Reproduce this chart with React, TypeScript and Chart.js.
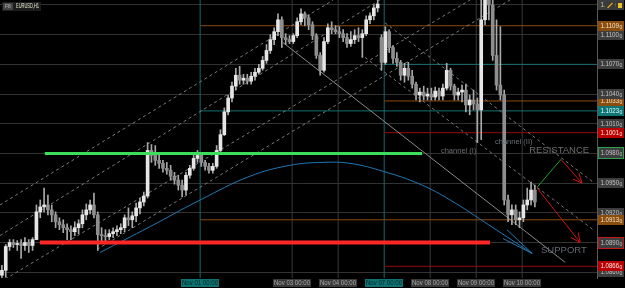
import { useEffect, useRef } from "react";
import { Chart, registerables } from "chart.js";

Chart.register(...registerables);

const symbolTitle = "EURUSD,H1";

// ---- candles (2-hour bars, index 0..139) ----
const opens = [
  1.0857, 1.0862, 1.0886, 1.0890, 1.0888, 1.0889, 1.0887, 1.0890, 1.0887, 1.0893,
  1.0921, 1.0926, 1.0928, 1.0923, 1.0918, 1.0911, 1.0908, 1.0905, 1.0903, 1.0901,
  1.0905, 1.0909, 1.0918, 1.0923, 1.0928, 1.0918, 1.0898, 1.0897, 1.0896, 1.0899,
  1.0901, 1.0903, 1.0905, 1.0915, 1.0913, 1.0917, 1.0925, 1.0931, 1.0937, 1.0983,
  1.0978, 1.0973, 1.0970, 1.0965, 1.0963, 1.0957, 1.0953, 1.0948, 1.0943, 1.0958,
  1.0965, 1.0975, 1.0978, 1.0971, 1.0967, 1.0963, 1.0967, 1.0983, 1.0999, 1.1022,
  1.1036, 1.1048, 1.1059, 1.1054, 1.1056, 1.1053, 1.1058, 1.1062, 1.1066, 1.1074,
  1.1084, 1.1095, 1.1103, 1.1115, 1.1097, 1.1095, 1.1093, 1.1099, 1.1113, 1.1121,
  1.1117, 1.1110, 1.1099, 1.1079, 1.1064, 1.1093, 1.1107, 1.1105, 1.1103, 1.1101,
  1.1097, 1.1091, 1.1095, 1.1099, 1.1097, 1.1101, 1.1115, 1.1119, 1.1127, 1.1097,
  1.1072, 1.1103, 1.1087, 1.1076, 1.1072, 1.1059, 1.1066, 1.1058, 1.1050, 1.1039,
  1.1042, 1.1038, 1.1040, 1.1037, 1.1043, 1.1038, 1.1046, 1.1064, 1.1048, 1.1039,
  1.1042, 1.1044, 1.1029, 1.1034, 1.1030, 1.1024, 1.1115, 1.1145, 1.1130, 1.1079,
  1.1049, 1.1039, 1.0933, 1.0918, 1.0923, 1.0913, 1.0915, 1.0928, 1.0933, 1.0943,
];
const highs = [
  1.0867, 1.0888, 1.0893, 1.0893, 1.0892, 1.0893, 1.0895, 1.0893, 1.0895, 1.0928,
  1.0933, 1.0945, 1.0938, 1.0928, 1.0921, 1.0915, 1.0913, 1.0909, 1.0907, 1.0911,
  1.0913, 1.0923, 1.0929, 1.0933, 1.0940, 1.0921, 1.0905, 1.0903, 1.0903, 1.0905,
  1.0907, 1.0909, 1.0918, 1.0925, 1.0921, 1.0930, 1.0935, 1.0941, 1.0991, 1.0989,
  1.0988, 1.0981, 1.0973, 1.0971, 1.0968, 1.0961, 1.0958, 1.0953, 1.0961, 1.0968,
  1.0978, 1.0983, 1.0981, 1.0973, 1.0970, 1.0970, 1.0988, 1.1004, 1.1026, 1.1039,
  1.1052, 1.1066, 1.1068, 1.1060, 1.1060, 1.1062, 1.1066, 1.1070, 1.1078, 1.1090,
  1.1100, 1.1107, 1.1121, 1.1118, 1.1101, 1.1099, 1.1101, 1.1117, 1.1126, 1.1123,
  1.1120, 1.1113, 1.1101, 1.1082, 1.1097, 1.1111, 1.1113, 1.1109, 1.1108, 1.1105,
  1.1101, 1.1103, 1.1105, 1.1107, 1.1105, 1.1119, 1.1122, 1.1130, 1.1138, 1.1100,
  1.1108, 1.1105, 1.1089, 1.1082, 1.1074, 1.1071, 1.1072, 1.1064, 1.1052, 1.1046,
  1.1048, 1.1046, 1.1046, 1.1047, 1.1046, 1.1050, 1.1071, 1.1066, 1.1050, 1.1046,
  1.1049, 1.1050, 1.1039, 1.1044, 1.1036, 1.1165, 1.1165, 1.1165, 1.1145, 1.1115,
  1.1108, 1.1044, 1.0938, 1.0928, 1.0928, 1.0921, 1.0933, 1.0945, 1.0951, 1.0948,
];
const lows = [
  1.0854, 1.0855, 1.0882, 1.0885, 1.0882, 1.0874, 1.0882, 1.0880, 1.0882, 1.0893,
  1.0915, 1.0921, 1.0918, 1.0911, 1.0905, 1.0903, 1.0900, 1.0893, 1.0893, 1.0897,
  1.0899, 1.0905, 1.0913, 1.0919, 1.0915, 1.0882, 1.0891, 1.0889, 1.0893, 1.0895,
  1.0897, 1.0899, 1.0901, 1.0907, 1.0905, 1.0911, 1.0919, 1.0927, 1.0935, 1.0971,
  1.0968, 1.0965, 1.0961, 1.0959, 1.0953, 1.0949, 1.0943, 1.0936, 1.0938, 1.0955,
  1.0963, 1.0971, 1.0967, 1.0963, 1.0960, 1.0960, 1.0965, 1.0981, 1.0998, 1.1019,
  1.1032, 1.1044, 1.1050, 1.1050, 1.1050, 1.1050, 1.1054, 1.1060, 1.1064, 1.1071,
  1.1081, 1.1090, 1.1099, 1.1087, 1.1090, 1.1091, 1.1091, 1.1097, 1.1110, 1.1109,
  1.1105, 1.1095, 1.1076, 1.1059, 1.1062, 1.1091, 1.1101, 1.1101, 1.1097, 1.1093,
  1.1087, 1.1088, 1.1091, 1.1093, 1.1077, 1.1099, 1.1111, 1.1115, 1.1123, 1.1064,
  1.1070, 1.1082, 1.1071, 1.1068, 1.1054, 1.1052, 1.1054, 1.1046, 1.1034, 1.1032,
  1.1034, 1.1034, 1.1034, 1.1034, 1.1034, 1.1034, 1.1044, 1.1044, 1.1034, 1.1034,
  1.1032, 1.1022, 1.1019, 1.1024, 1.0991, 1.0994, 1.1110, 1.1115, 1.1074, 1.1044,
  1.1034, 1.0928, 1.0911, 1.0908, 1.0908, 1.0905, 1.0911, 1.0923, 1.0928, 1.0926,
];
const closes = [
  1.0862, 1.0886, 1.0890, 1.0888, 1.0889, 1.0887, 1.0890, 1.0887, 1.0893, 1.0921,
  1.0926, 1.0928, 1.0923, 1.0918, 1.0911, 1.0908, 1.0905, 1.0903, 1.0901, 1.0905,
  1.0909, 1.0918, 1.0923, 1.0928, 1.0918, 1.0898, 1.0897, 1.0896, 1.0899, 1.0901,
  1.0903, 1.0905, 1.0915, 1.0913, 1.0917, 1.0925, 1.0931, 1.0937, 1.0983, 1.0978,
  1.0973, 1.0970, 1.0965, 1.0963, 1.0957, 1.0953, 1.0948, 1.0943, 1.0958, 1.0965,
  1.0975, 1.0978, 1.0971, 1.0967, 1.0963, 1.0967, 1.0983, 1.0999, 1.1022, 1.1036,
  1.1048, 1.1059, 1.1054, 1.1056, 1.1053, 1.1058, 1.1062, 1.1066, 1.1074, 1.1084,
  1.1095, 1.1103, 1.1115, 1.1097, 1.1095, 1.1093, 1.1099, 1.1113, 1.1121, 1.1117,
  1.1110, 1.1099, 1.1079, 1.1064, 1.1093, 1.1107, 1.1105, 1.1103, 1.1101, 1.1097,
  1.1091, 1.1095, 1.1099, 1.1097, 1.1101, 1.1115, 1.1119, 1.1127, 1.1131, 1.1072,
  1.1103, 1.1087, 1.1076, 1.1072, 1.1059, 1.1066, 1.1058, 1.1050, 1.1039, 1.1042,
  1.1038, 1.1040, 1.1037, 1.1043, 1.1038, 1.1046, 1.1064, 1.1048, 1.1039, 1.1042,
  1.1044, 1.1029, 1.1034, 1.1030, 1.1024, 1.1115, 1.1145, 1.1130, 1.1079, 1.1049,
  1.1039, 1.0933, 1.0918, 1.0923, 1.0913, 1.0915, 1.0928, 1.0933, 1.0943, 1.0931,
];

// ---- time axis (bar-index units) ----
const dayTickBars = [51.7, 75.7, 87.7, 99.7, 111.7, 123.7, 135.7];
const dayTickLabels = ["Nov 01 00:00", "Nov 03 00:00", "Nov 04 00:00", "Nov 07 00:00", "Nov 08 00:00", "Nov 09 00:00", "Nov 10 00:00"];
const highlightedDays = ["Nov 01 00:00", "Nov 07 00:00"];

// ---- price axis ----
const priceTicks = [1.113, 1.11, 1.107, 1.104, 1.101, 1.098, 1.095, 1.092, 1.089, 1.086];
const priceMin = 1.08542;
const priceMax = 1.1135;
const barMin = -0.5;
const barMax = 155.2;

// ---- horizontal levels ----
const levelPrices = [1.1109, 1.107, 1.1033, 1.1023, 1.1001, 1.0913, 1.0866];
const levelStartBars = [51.7, 99.7, 99.7, 51.7, 99.7, 51.7, 99.7];
const levelKinds = ["orange", "teal", "orange", "teal", "red", "orange", "red"];

const resistancePrice = 1.098;
const resistanceBars = [11.2, 109.6];
const supportPrice = 1.089;
const supportBars = [9.9, 127.3];

// ---- channels & trend lines ----
const risingChannelBars = [[-0.5, 86.4], [-0.5, 98.6], [-0.5, 122.1], [24.8, 132.5]];
const risingChannelPrices = [[1.0928, 1.1135], [1.0897, 1.1135], [1.085, 1.1135], [1.0883, 1.1135]];
const fallingChannelBars = [[99.9, 154.2], [94.7, 154.2]];
const fallingChannelPrices = [[1.1112, 1.0951], [1.1077, 1.0903]];
const trendLineBars = [73.3, 146.9];
const trendLinePrices = [1.1092, 1.087];

// ---- arc ----
const arcBars = [25.6, 38.6, 51.7, 64.7, 75.1, 83.7, 90.8, 99.4, 109.0, 116.9, 127.3, 138.3];
const arcPrices = [1.088, 1.0906, 1.0933, 1.0957, 1.0968, 1.0971, 1.097, 1.0962, 1.0949, 1.0933, 1.0907, 1.0879];
const arcHeadBars = [131.7, 138.3, 130.7];
const arcHeadPrices = [1.0903, 1.0879, 1.0894];

// ---- projection arrows ----
const upMoveBars = [139.6, 145.8];
const upMovePrices = [1.0946, 1.0974];
const downArrow1Bars = [145.8, 151.3];
const downArrow1Prices = [1.0974, 1.095];
const downHead1Bars = [150.5, 151.3, 148.95];
const downHead1Prices = [1.096, 1.095, 1.0954];
const downArrow2Bars = [139.6, 150.8];
const downArrow2Prices = [1.0945, 1.089];
const downHead2Bars = [150.3, 150.8, 148.4];
const downHead2Prices = [1.09, 1.089, 1.0895];

// ---- text annotations ----
const annotationTexts = ["channel (I)", "channel (II)", "RESISTANCE", "SUPPORT"];
const annotationBars = [114.5, 128.6, 137.5, 140.6];
const annotationPrices = [1.0983, 1.0992, 1.0983, 1.0882];

// ---- styles ----
const FONT = '"Liberation Sans", Arial, sans-serif';
const levelColors: Record<string, string> = { orange: "#8a4a12", teal: "#16706f", red: "#950b0b" };
const levelBoxBg: Record<string, string> = { orange: "#8a4d10", teal: "#0f7575", red: "#b80000" };
const levelBoxFg: Record<string, string> = { orange: "#f3e2c4", teal: "#e8ffff", red: "#ffe6e6" };
const annotationStyles = [
  { font: `7.5px ${FONT}`, color: "#6a6e72" },
  { font: `7.5px ${FONT}`, color: "#6a6e72" },
  { font: `9.5px ${FONT}`, color: "#6e6e6e" },
  { font: `9.5px ${FONT}`, color: "#646874" },
];

const pts = (xs: number[], ys: number[]) => xs.map((x, i) => ({ x, y: ys[i] }));

const line = (data: any[], color: string, width: number, order: number, extra: any = {}) => ({
  type: "line",
  data,
  borderColor: color,
  borderWidth: width,
  pointRadius: 0,
  fill: false,
  tension: 0,
  order,
  ...extra,
});

const mtPlugin = {
  id: "mt4Overlay",
  afterDraw(chart: any) {
    const { ctx, chartArea: a, scales } = chart;
    const x = scales.x;
    const y = scales.y;
    ctx.save();
    ctx.textBaseline = "middle";
    ctx.textAlign = "left";

    // annotations
    annotationTexts.forEach((t, i) => {
      ctx.font = annotationStyles[i].font;
      ctx.fillStyle = annotationStyles[i].color;
      ctx.fillText(t, x.getPixelForValue(annotationBars[i]), y.getPixelForValue(annotationPrices[i]));
    });

    // price boxes
    const boxX = a.right + 1;
    const boxW = chart.width - boxX - 1;
    const drawBox = (price: number, bg: string, fg: string, border?: string) => {
      const cy = Math.round(y.getPixelForValue(price));
      ctx.fillStyle = bg;
      ctx.fillRect(boxX, cy - 5, boxW, 10);
      if (border) {
        ctx.strokeStyle = border;
        ctx.lineWidth = 1;
        ctx.strokeRect(boxX + 0.5, cy - 5.5, boxW - 1, 11);
      }
      const s = price.toFixed(5);
      ctx.fillStyle = fg;
      ctx.font = `7px ${FONT}`;
      ctx.fillText(s.slice(0, 6), boxX + 2.5, cy + 0.5, 18.5);
      ctx.font = `5px ${FONT}`;
      ctx.fillText(s.slice(6), boxX + 21.5, cy + 1.5);
    };
    levelPrices.forEach((p, i) => {
      if (p === 1.1033) drawBox(p, levelBoxBg[levelKinds[i]], levelBoxFg[levelKinds[i]]);
    });
    priceTicks.forEach((p) => {
      let border: string | undefined;
      if (p === resistancePrice) border = "#2aa04a";
      if (p === supportPrice) border = "#c01818";
      drawBox(p, "#3d3d3d", "#c4c4c4", border);
    });
    levelPrices.forEach((p, i) => {
      if (p === 1.1033 || p === 1.107) return;
      drawBox(p, levelBoxBg[levelKinds[i]], levelBoxFg[levelKinds[i]]);
    });

    // time labels
    dayTickBars.forEach((b, i) => {
      const cx = Math.round(x.getPixelForValue(b));
      const hi = highlightedDays.includes(dayTickLabels[i]);
      ctx.fillStyle = hi ? "#0f7272" : "#3a3a3a";
      ctx.fillRect(cx - 19, a.bottom + 1, 38, 8);
      ctx.fillStyle = hi ? "#012828" : "#a8a8a8";
      ctx.font = `6.5px ${FONT}`;
      ctx.textAlign = "center";
      ctx.fillText(dayTickLabels[i], cx, a.bottom + 5.5, 36);
      ctx.textAlign = "left";
    });

    // title box top-left
    ctx.fillStyle = "#1c1c1c";
    ctx.fillRect(2, 2, 39, 9);
    ctx.fillStyle = "#444";
    ctx.fillRect(3, 3, 10, 7);
    ctx.fillStyle = "#bbb";
    ctx.font = `5px ${FONT}`;
    ctx.fillText("F8", 5, 6.5);
    ctx.fillStyle = "#e8e8d0";
    ctx.font = `6.5px ${FONT}`;
    ctx.fillText(symbolTitle, 16, 6.5, 23);

    // icons top-right
    ctx.fillStyle = "#3a3a3a";
    ctx.fillRect(605, 1, 10, 9);
    ctx.strokeStyle = "#e0a020";
    ctx.lineWidth = 1.2;
    ctx.beginPath();
    ctx.moveTo(607.5, 8);
    ctx.lineTo(612.5, 3);
    ctx.stroke();
    ctx.fillStyle = "#3a3a3a";
    ctx.fillRect(616, 1, 8, 9);
    ctx.fillStyle = "#e8c020";
    ctx.fillRect(618, 3, 4, 5);
    ctx.restore();
  },
};

export default function App() {
  const ref = useRef<HTMLCanvasElement | null>(null);

  useEffect(() => {
    if (!ref.current) return;
    const datasets: any[] = [];

    // vertical day separators (teal for highlighted days)
    dayTickBars.forEach((b, i) => {
      const hi = highlightedDays.includes(dayTickLabels[i]);
      datasets.push(line(pts([b, b], [priceMin - 0.01, priceMax + 0.01]), hi ? "#136a6a" : "#383838", 1, hi ? 30 : 31));
    });
    // horizontal levels
    levelPrices.forEach((p, i) =>
      datasets.push(line(pts([levelStartBars[i], barMax + 1], [p, p]), levelColors[levelKinds[i]], 1, 25))
    );
    // rising channel
    risingChannelBars.forEach((bs, i) =>
      datasets.push(line(pts(bs, risingChannelPrices[i]), "#7a7a7a", 1, 20, { borderDash: [3, 3] }))
    );
    fallingChannelBars.forEach((bs, i) =>
      datasets.push(line(pts(bs, fallingChannelPrices[i]), "#7a7a7a", 1, 20, { borderDash: [3, 3] }))
    );
    datasets.push(line(pts(trendLineBars, trendLinePrices), "#8a8a8a", 1, 20));

    // candles
    datasets.push({
      type: "bar",
      data: highs.map((h, i) => ({ x: i, y: [lows[i], h] })),
      backgroundColor: "#a9a9a9",
      barThickness: 1,
      grouped: false,
      order: 11,
    });
    datasets.push({
      type: "bar",
      data: closes.map((c, i) => ({ x: i, y: [opens[i], c] })),
      backgroundColor: closes.map((c, i) => (c >= opens[i] ? "#e6e6e6" : "#8e8e8e")),
      barThickness: 3,
      minBarLength: 1,
      grouped: false,
      order: 10,
    });

    // arc
    datasets.push(line(pts(arcBars, arcPrices), "#1f78b4", 1, 8, { tension: 0.4 }));
    datasets.push(line(pts(arcHeadBars, arcHeadPrices), "#1f78b4", 1, 8));

    // resistance / support
    datasets.push(line(pts(resistanceBars, [resistancePrice, resistancePrice]), "#3ddc5c", 3, 5));
    datasets.push(line(pts(supportBars, [supportPrice, supportPrice]), "#ff2626", 4, 5));

    // projections
    datasets.push(line(pts(upMoveBars, upMovePrices), "#23a02a", 1, 4));
    datasets.push(line(pts(downArrow1Bars, downArrow1Prices), "#d01414", 1, 4));
    datasets.push(line(pts(downHead1Bars, downHead1Prices), "#d01414", 1, 4));
    datasets.push(line(pts(downArrow2Bars, downArrow2Prices), "#d01414", 1, 4));
    datasets.push(line(pts(downHead2Bars, downHead2Prices), "#d01414", 1, 4));

    const chart = new Chart(ref.current, {
      type: "bar",
      data: { datasets },
      options: {
        animation: false,
        responsive: false,
        maintainAspectRatio: false,
        devicePixelRatio: 1,
        events: [],
        layout: { padding: 0 },
        plugins: { legend: { display: false }, tooltip: { enabled: false } },
        scales: {
          x: {
            type: "linear",
            min: barMin,
            max: barMax,
            offset: false,
            grid: { display: false },
            border: { display: false },
            ticks: { display: false },
            afterFit: (s: any) => {
              s.height = 10;
            },
          },
          y: {
            type: "linear",
            position: "right",
            min: priceMin,
            max: priceMax,
            grid: { color: "#323232", drawTicks: false, lineWidth: 1 },
            border: { display: true, color: "#5a5a5a" },
            ticks: { display: false },
            afterBuildTicks: (s: any) => {
              s.ticks = priceTicks.map((v) => ({ value: v }));
            },
            afterFit: (s: any) => {
              s.width = 28;
            },
          },
        },
      } as any,
      plugins: [mtPlugin],
    } as any);
    return () => chart.destroy();
  }, []);

  return (
    <div style={{ position: "fixed", left: 0, top: 0, width: 625, height: 288, background: "#000" }}>
      <canvas ref={ref} width={625} height={288} style={{ width: 625, height: 288, display: "block" }} />
    </div>
  );
}
